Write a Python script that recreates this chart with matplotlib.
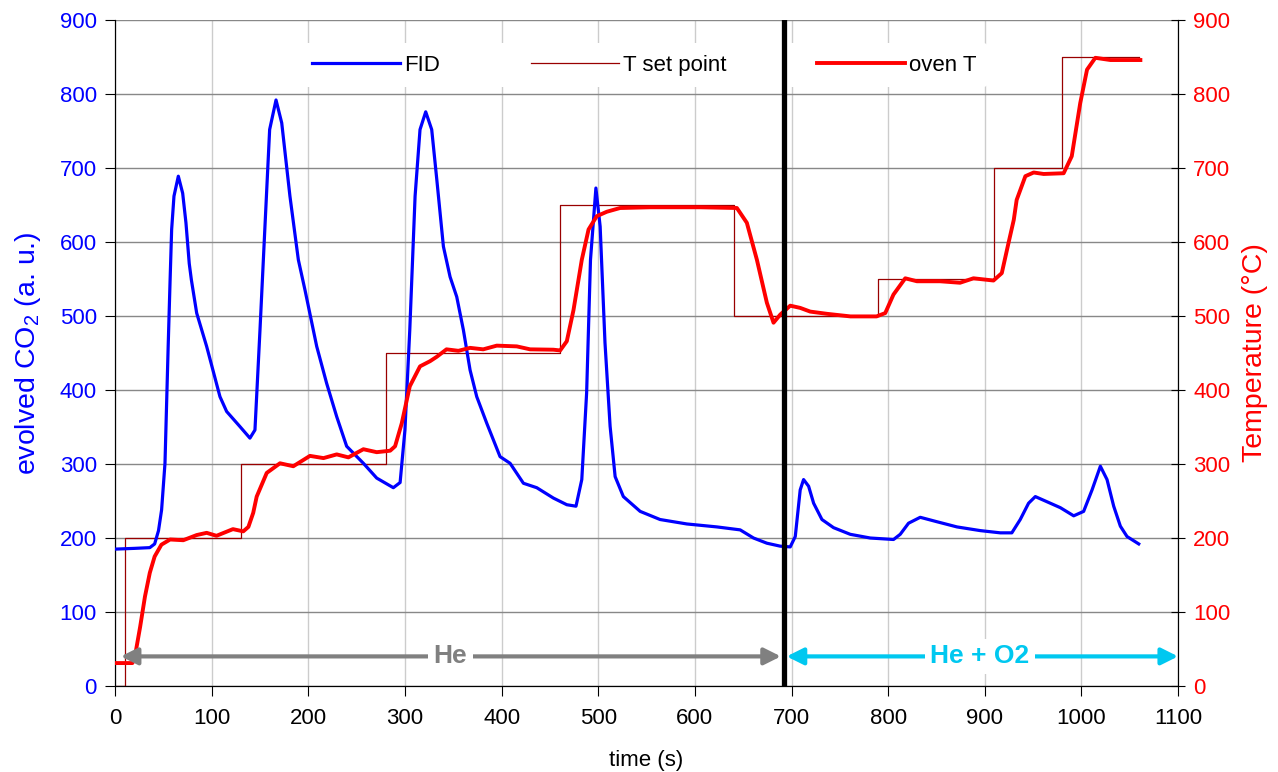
import matplotlib
matplotlib.use("Agg")
import matplotlib.pyplot as plt

plt.rcParams['font.family'] = ['Liberation Sans', 'DejaVu Sans']
plt.rcParams['mathtext.fontset'] = 'custom'
plt.rcParams['mathtext.rm'] = 'Liberation Sans'
plt.rcParams['mathtext.it'] = 'Liberation Sans:italic'
plt.rcParams['mathtext.bf'] = 'Liberation Sans:bold'

# FID signal (evolved CO2, a.u.)
fid_t = [0, 20, 36, 41, 45, 48.2, 51.7, 55, 57, 58.6, 61, 65.5, 70, 73.4, 76.8, 79, 84.5, 94.8,
         108.6, 115.5, 129, 139.6, 144.8, 150, 155, 160, 166.6, 172.5, 181, 189.7, 196.6, 208.7,
         219, 229.4, 239.7, 257, 270.8, 288, 295, 300, 305, 310.5, 315.6, 321.5, 327.7, 333,
         339.8, 346.7, 353.6, 360.5, 367.4, 374.3, 384.7, 398.4, 408.8, 422.6, 436.4, 453.6,
         467.5, 477, 483, 488, 492, 497.6, 502, 507, 512.3, 517.5, 526, 543.4, 564, 591.7,
         622.8, 646.9, 660.7, 674.5, 688.3, 698.7, 703.9, 709, 712.5, 717.7, 722.9, 731.5,
         743.5, 760.8, 781.5, 805.6, 812.5, 821.1, 833.2, 850.5, 871.2, 895.4, 916, 928,
         936.7, 945.3, 952.3, 964.4, 978.2, 992, 1002.3, 1011, 1019.6, 1026.5, 1033.4, 1040.3,
         1047.2, 1059.3]
fid_v = [185, 186, 187, 192, 210, 238, 301, 459, 549, 617, 662, 689, 666, 626, 571, 549, 504, 459,
         391, 371, 351, 335, 346, 481, 617, 752, 792, 761, 662, 576, 535, 459,
         409, 364, 324, 301, 281, 268, 275, 346, 481, 662, 752, 776, 752, 684,
         594, 553, 526, 481, 427, 391, 355, 310, 301, 274, 268, 254,
         245, 243, 279, 396, 576, 673, 621, 464, 351, 283, 256, 236, 225, 219,
         215, 211, 200, 193, 189, 188, 202, 265, 279, 270, 247, 225,
         214, 205, 200, 198, 205, 220, 228, 222, 215, 210, 207, 207,
         225, 247, 256, 249, 241, 230, 236, 265, 297, 279, 243, 216,
         202, 192]

# Temperature set point (step)
sp_t = [0, 10, 130, 280, 460, 640, 790, 910, 980, 1060]
sp_v = [0, 200, 300, 450, 650, 500, 550, 700, 850, 850]

# Oven temperature
ov_t = [0, 18, 20.6, 26, 31, 36, 41, 48, 57, 70.6, 84.5, 94.8, 105, 122, 132.7, 138, 143, 146.6,
        157, 170.7, 184.5, 201.7, 215.7, 229.4, 241.5, 257, 270.8, 284.7, 289.8, 296.7, 305,
        315.6, 326, 333, 343, 355.3, 367.4, 381, 395, 415.7, 429.5, 453.6, 460.6, 467.5, 474.4,
        483, 490, 498.5, 509, 522.6, 553.8, 605.6, 643.5, 653.8, 664.2, 674.5, 681.4, 688.4,
        698.7, 709, 719.4, 736.7, 761, 788, 797, 805.5, 817.7, 829.8, 853.7, 874.4, 888.3, 909,
        917.6, 924.6, 930, 933, 942, 950.6, 960.9, 981.6, 990, 998.8, 1005.8, 1014.4, 1030, 1061]
ov_v = [31, 31, 40, 80, 121, 153, 175, 191, 198, 197, 204, 207, 203, 212, 209, 215, 234, 256,
        288, 301, 297, 311, 308, 313, 309, 320, 316, 318, 324, 355, 405,
        432, 439, 445, 455, 453, 457, 455, 460, 459, 455, 454.5, 453.5, 466, 508,
        576, 617, 635, 641, 646, 647, 647, 646, 626, 576, 518, 491, 502,
        514, 511, 506, 503, 499.5, 499.5, 504, 529, 551, 547, 547, 545, 551, 548,
        558, 599, 630, 657, 689, 694, 692, 693, 716, 788, 833, 849, 846, 846]

switch_t = 692
x_ticks = list(range(0, 1101, 100))
y_ticks = list(range(0, 901, 100))

fig = plt.figure(figsize=(12.78, 7.72), dpi=100)
ax = fig.add_axes([0.090, 0.1114, 0.8318, 0.8626])
ax2 = ax.twinx()

ax.set_xlim(0, 1100)
ax.set_ylim(0, 900)
ax2.set_ylim(0, 900)
ax.set_xticks(x_ticks)
ax.set_yticks(y_ticks)
ax2.set_yticks(y_ticks)

ax.yaxis.grid(True, color='#888888', lw=1.0)
ax.xaxis.grid(True, color='#cccccc', lw=1.0)
ax.set_axisbelow(True)

l1, = ax2.plot(fid_t, fid_v, color='#0000ff', lw=2.3, label='FID', zorder=3)
l2, = ax2.plot(sp_t, sp_v, color='#990000', lw=0.9, drawstyle='steps-post',
               label='T set point', zorder=2)
l3, = ax2.plot(ov_t, ov_v, color='#ff0000', lw=2.8, label='oven T', zorder=4)

leg = ax2.legend(handles=[l1, l2, l3], ncol=3, loc='center', bbox_to_anchor=(0.498, 0.9325),
                 frameon=True, fontsize=16, handlelength=3.95, handletextpad=0.18,
                 columnspacing=4.1, borderpad=0.5)
leg.get_frame().set_edgecolor('none')
leg.get_frame().set_facecolor('white')
leg.get_frame().set_alpha(1.0)
leg.set_zorder(5)

ax2.axvline(switch_t, color='black', lw=3.8, zorder=6)

# Arrows
ax2.annotate('', xy=(6, 40), xytext=(689, 40),
             arrowprops=dict(arrowstyle='<|-|>', color='#808080', lw=3, mutation_scale=25,
                             shrinkA=0, shrinkB=0), zorder=5)
ax2.text(347, 40, 'He', color='#808080', fontsize=19, fontweight='bold', ha='center',
         va='center', bbox=dict(facecolor='white', edgecolor='none', pad=4), zorder=6)
ax2.annotate('', xy=(695, 40), xytext=(1100, 40),
             arrowprops=dict(arrowstyle='<|-|>', color='#00c8f0', lw=3, mutation_scale=25,
                             shrinkA=0, shrinkB=0), zorder=5)
ax2.text(895, 40, 'He + O2', color='#00c8f0', fontsize=19, fontweight='bold', ha='center',
         va='center', bbox=dict(facecolor='white', edgecolor='none', pad=4), zorder=6)

ax.tick_params(axis='y', colors='black', labelcolor='#0000ff', labelsize=16, direction='out',
               length=7, pad=6)
ax.tick_params(axis='x', labelsize=16, direction='out', length=7, pad=9)
ax2.tick_params(axis='y', labelcolor='#ff0000', labelsize=16, direction='inout', length=10,
                pad=6)

ax.set_xlabel('time (s)', fontsize=16, labelpad=15)
ax.set_ylabel('evolved CO$_2$ (a. u.)', color='#0000ff', fontsize=20.5, labelpad=12)
ax2.set_ylabel('Temperature (°C)', color='#ff0000', fontsize=20.5, labelpad=8)

ax.spines['top'].set_visible(False)
ax2.spines['top'].set_visible(False)

fig.savefig('out.png', dpi=100)
